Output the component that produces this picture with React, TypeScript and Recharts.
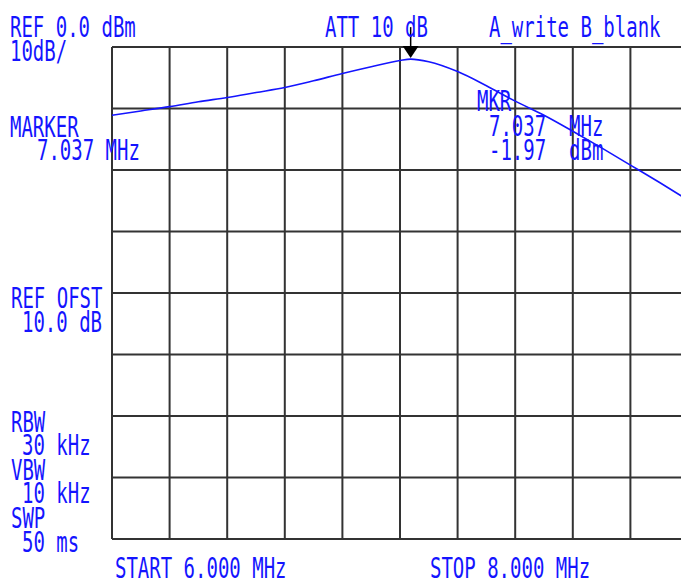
import React from "react";
import { LineChart, Line, XAxis, YAxis, CartesianGrid, ReferenceDot } from "recharts";

const freqMHz = [6.0, 6.1, 6.2, 6.3, 6.4, 6.5, 6.6, 6.7, 6.8, 6.9, 7.0, 7.037, 7.1, 7.2, 7.3, 7.4, 7.5, 7.6, 7.7, 7.8, 7.9, 8.0];
const levelDbm = [-11.1, -10.4, -9.7, -8.9, -8.2, -7.4, -6.6, -5.5, -4.3, -3.2, -2.2, -1.97, -2.4, -4.0, -6.3, -8.8, -11.1, -13.7, -16.4, -19.2, -22.0, -24.9];
const xTicks = [6.0, 6.2, 6.4, 6.6, 6.8, 7.0, 7.2, 7.4, 7.6, 7.8, 8.0];
const yTicks = [-80, -70, -60, -50, -40, -30, -20, -10, 0];
const markerFreq = 7.037;
const markerLevel = -1.97;

const data = freqMHz.map((f, i) => ({ f, v: levelDbm[i] }));

const BLUE = "#1414ff";
const FONT = "'DejaVu Sans Mono', monospace";

type T = { x: number; y: number; s: string };
const texts: T[] = [
  { x: 10, y: 37, s: "REF 0.0 dBm" },
  { x: 10, y: 61, s: "10dB/" },
  { x: 325, y: 37, s: "ATT 10 dB" },
  { x: 489, y: 37, s: "A_write B_blank" },
  { x: 10, y: 137, s: "MARKER" },
  { x: 37, y: 160, s: "7.037 MHz" },
  { x: 477, y: 111, s: "MKR" },
  { x: 489, y: 136, s: "7.037  MHz" },
  { x: 489, y: 160, s: "-1.97  dBm" },
  { x: 11, y: 308, s: "REF OFST" },
  { x: 22, y: 332, s: "10.0 dB" },
  { x: 11, y: 432, s: "RBW" },
  { x: 22, y: 455, s: "30 kHz" },
  { x: 11, y: 480, s: "VBW" },
  { x: 22, y: 503, s: "10 kHz" },
  { x: 11, y: 528, s: "SWP" },
  { x: 22, y: 552, s: "50 ms" },
  { x: 115, y: 578, s: "START 6.000 MHz" },
  { x: 430, y: 578, s: "STOP 8.000 MHz" },
];

const MarkerShape = (props: any) => {
  const { cx, cy } = props;
  if (cx == null || cy == null) return null;
  return (
    <g>
      <line x1={cx} y1={cy - 32} x2={cx} y2={cy - 12} stroke="#000" strokeWidth={1.5} />
      <polygon points={`${cx - 8},${cy - 13} ${cx + 8},${cy - 13} ${cx},${cy - 1}`} fill="#000" />
    </g>
  );
};

export default function App() {
  return (
    <div style={{ position: "fixed", left: 0, top: 0, width: 681, height: 582, overflow: "hidden", background: "#fff" }}>
      <div style={{ position: "absolute", left: 0, top: 0 }}>
        <LineChart width={700} height={582} data={data} margin={{ top: 47, right: 12, bottom: 43, left: 112 }}>
          <CartesianGrid stroke="#333" strokeWidth={2} horizontalValues={yTicks} verticalValues={xTicks} />
          <XAxis dataKey="f" type="number" domain={[6, 8]} ticks={xTicks} hide />
          <YAxis type="number" domain={[-80, 0]} ticks={yTicks} hide />
          <Line dataKey="v" type="monotone" stroke={BLUE} strokeWidth={1.6} dot={false} isAnimationActive={false} />
          <ReferenceDot x={markerFreq} y={markerLevel} shape={MarkerShape} ifOverflow="visible" />
        </LineChart>
      </div>
      <svg width={681} height={582} style={{ position: "absolute", left: 0, top: 0, pointerEvents: "none" }}>
        {texts.map((t, i) => (
          <text
            key={i}
            x={0}
            y={0}
            transform={`translate(${t.x},${t.y}) scale(1,1.48)`}
            fontFamily={FONT}
            fontSize={19}
            fill={BLUE}
            style={{ whiteSpace: "pre" }}
            xmlSpace="preserve"
          >
            {t.s}
          </text>
        ))}
      </svg>
    </div>
  );
}
